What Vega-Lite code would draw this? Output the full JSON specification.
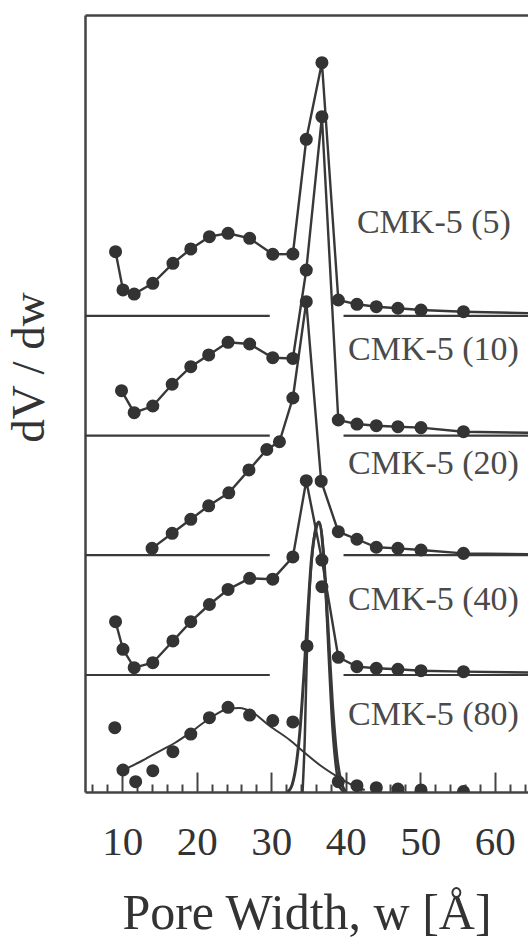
{
  "$schema": "https://vega.github.io/schema/vega-lite/v6.json",
  "width": 443,
  "height": 777,
  "autosize": {"type": "none"},
  "padding": {"left": 85, "top": 15, "right": 0, "bottom": 147},
  "background": "white",
  "config": {"view": {"stroke": null}, "font": "Liberation Serif"},
  "datasets": {
    "base": [
      {"x": 5, "x2": 29.8, "y": 3.985},
      {"x": 39.7, "x2": 70, "y": 3.985},
      {"x": 5, "x2": 29.8, "y": 2.982},
      {"x": 39.7, "x2": 70, "y": 2.982},
      {"x": 5, "x2": 29.8, "y": 1.983},
      {"x": 39.7, "x2": 70, "y": 1.983},
      {"x": 5, "x2": 29.8, "y": 0.979},
      {"x": 39.7, "x2": 70, "y": 0.979}
    ],
    "pts": [
      {"s": "5", "x": 9.1, "y": 4.521},
      {"s": "5", "x": 10.1, "y": 4.201},
      {"s": "5", "x": 11.6, "y": 4.167},
      {"s": "5", "x": 14.1, "y": 4.257},
      {"s": "5", "x": 16.8, "y": 4.424},
      {"s": "5", "x": 19.2, "y": 4.544},
      {"s": "5", "x": 21.7, "y": 4.647},
      {"s": "5", "x": 24.2, "y": 4.675},
      {"s": "5", "x": 27.1, "y": 4.633},
      {"s": "5", "x": 30.2, "y": 4.5},
      {"s": "5", "x": 32.9, "y": 4.502},
      {"s": "5", "x": 34.7, "y": 5.462},
      {"s": "5", "x": 36.8, "y": 6.103},
      {"s": "5", "x": 39.0, "y": 4.117},
      {"s": "5", "x": 41.5, "y": 4.081},
      {"s": "5", "x": 44.1, "y": 4.061},
      {"s": "5", "x": 47.0, "y": 4.048},
      {"s": "5", "x": 50.1, "y": 4.033},
      {"s": "5", "x": 55.8, "y": 4.019},
      {"s": "5", "x": 70, "y": 4.0},
      {"s": "10", "x": 9.9, "y": 3.358},
      {"s": "10", "x": 11.6, "y": 3.174},
      {"s": "10", "x": 14.1, "y": 3.23},
      {"s": "10", "x": 16.7, "y": 3.412},
      {"s": "10", "x": 19.2, "y": 3.559},
      {"s": "10", "x": 21.6, "y": 3.657},
      {"s": "10", "x": 24.2, "y": 3.763},
      {"s": "10", "x": 27.1, "y": 3.749},
      {"s": "10", "x": 30.2, "y": 3.634},
      {"s": "10", "x": 32.9, "y": 3.628},
      {"s": "10", "x": 34.7, "y": 4.368},
      {"s": "10", "x": 36.8, "y": 5.651},
      {"s": "10", "x": 39.0, "y": 3.113},
      {"s": "10", "x": 41.5, "y": 3.079},
      {"s": "10", "x": 44.1, "y": 3.065},
      {"s": "10", "x": 47.0, "y": 3.057},
      {"s": "10", "x": 50.1, "y": 3.049},
      {"s": "10", "x": 55.8, "y": 3.015},
      {"s": "10", "x": 70, "y": 3.0},
      {"s": "20", "x": 14.0, "y": 2.039},
      {"s": "20", "x": 16.7, "y": 2.165},
      {"s": "20", "x": 19.2, "y": 2.282},
      {"s": "20", "x": 21.6, "y": 2.395},
      {"s": "20", "x": 24.3, "y": 2.504},
      {"s": "20", "x": 27.0, "y": 2.695},
      {"s": "20", "x": 29.4, "y": 2.866},
      {"s": "20", "x": 31.1, "y": 2.931},
      {"s": "20", "x": 32.9, "y": 3.297},
      {"s": "20", "x": 34.7, "y": 4.103},
      {"s": "20", "x": 36.7, "y": 2.601},
      {"s": "20", "x": 39.0, "y": 2.178},
      {"s": "20", "x": 41.5, "y": 2.115},
      {"s": "20", "x": 44.1, "y": 2.048},
      {"s": "20", "x": 47.0, "y": 2.039},
      {"s": "20", "x": 50.1, "y": 2.025},
      {"s": "20", "x": 55.8, "y": 1.997},
      {"s": "20", "x": 70, "y": 1.987},
      {"s": "40", "x": 9.1, "y": 1.425},
      {"s": "40", "x": 10.1, "y": 1.194},
      {"s": "40", "x": 11.6, "y": 1.04},
      {"s": "40", "x": 14.1, "y": 1.082},
      {"s": "40", "x": 16.8, "y": 1.264},
      {"s": "40", "x": 19.2, "y": 1.425},
      {"s": "40", "x": 21.7, "y": 1.569},
      {"s": "40", "x": 24.2, "y": 1.695},
      {"s": "40", "x": 27.1, "y": 1.788},
      {"s": "40", "x": 30.2, "y": 1.781},
      {"s": "40", "x": 32.9, "y": 1.967},
      {"s": "40", "x": 34.7, "y": 2.605},
      {"s": "40", "x": 36.8, "y": 1.941},
      {"s": "40", "x": 39.0, "y": 1.127},
      {"s": "40", "x": 41.5, "y": 1.049},
      {"s": "40", "x": 44.1, "y": 1.035},
      {"s": "40", "x": 47.0, "y": 1.027},
      {"s": "40", "x": 50.1, "y": 1.015},
      {"s": "40", "x": 55.8, "y": 1.007},
      {"s": "40", "x": 70, "y": 0.996},
      {"s": "80", "x": 9.0, "y": 0.538},
      {"s": "80", "x": 10.1, "y": 0.184},
      {"s": "80", "x": 11.8, "y": 0.086},
      {"s": "80", "x": 14.1, "y": 0.178},
      {"s": "80", "x": 16.8, "y": 0.337},
      {"s": "80", "x": 19.2, "y": 0.485},
      {"s": "80", "x": 21.7, "y": 0.622},
      {"s": "80", "x": 24.2, "y": 0.709},
      {"s": "80", "x": 27.1, "y": 0.644},
      {"s": "80", "x": 30.2, "y": 0.598},
      {"s": "80", "x": 32.9, "y": 0.586},
      {"s": "80", "x": 34.8, "y": 1.222},
      {"s": "80", "x": 36.8, "y": 1.718},
      {"s": "80", "x": 39.0, "y": 0.086},
      {"s": "80", "x": 41.5, "y": 0.053},
      {"s": "80", "x": 44.1, "y": 0.036},
      {"s": "80", "x": 47.0, "y": 0.025},
      {"s": "80", "x": 50.1, "y": 0.017},
      {"s": "80", "x": 55.8, "y": 0.003}
    ],
    "fit": [
      {"f": "broad", "x": 10.07, "y": 0.184},
      {"f": "broad", "x": 12.35, "y": 0.251},
      {"f": "broad", "x": 15.03, "y": 0.343},
      {"f": "broad", "x": 17.05, "y": 0.41},
      {"f": "broad", "x": 19.06, "y": 0.494},
      {"f": "broad", "x": 21.61, "y": 0.611},
      {"f": "broad", "x": 24.16, "y": 0.695},
      {"f": "broad", "x": 25.77, "y": 0.703},
      {"f": "broad", "x": 27.38, "y": 0.669},
      {"f": "broad", "x": 29.8, "y": 0.552},
      {"f": "broad", "x": 32.48, "y": 0.435},
      {"f": "broad", "x": 34.36, "y": 0.335},
      {"f": "broad", "x": 36.51, "y": 0.226},
      {"f": "broad", "x": 38.93, "y": 0.126},
      {"f": "broad", "x": 40.8, "y": 0.059},
      {"f": "broad", "x": 42.55, "y": 0.017},
      {"f": "narrow", "x": 34.2, "y": 0.0},
      {"f": "narrow", "x": 34.5, "y": 0.45},
      {"f": "narrow", "x": 34.8, "y": 1.2},
      {"f": "narrow", "x": 35.2, "y": 1.75},
      {"f": "narrow", "x": 35.6, "y": 2.05},
      {"f": "narrow", "x": 36.0, "y": 2.22},
      {"f": "narrow", "x": 36.4, "y": 2.26},
      {"f": "narrow", "x": 36.8, "y": 2.15},
      {"f": "narrow", "x": 37.2, "y": 1.8},
      {"f": "narrow", "x": 37.7, "y": 1.15},
      {"f": "narrow", "x": 38.2, "y": 0.55},
      {"f": "narrow", "x": 38.7, "y": 0.2},
      {"f": "narrow", "x": 39.2, "y": 0.04},
      {"f": "narrow", "x": 39.8, "y": 0.0},
      {"f": "thin", "x": 32.2, "y": 0.0},
      {"f": "thin", "x": 32.8, "y": 0.06},
      {"f": "thin", "x": 33.4, "y": 0.25},
      {"f": "thin", "x": 33.9, "y": 0.55},
      {"f": "thin", "x": 34.4, "y": 1.0},
      {"f": "thin", "x": 34.9, "y": 1.5},
      {"f": "thin", "x": 35.4, "y": 1.95},
      {"f": "thin", "x": 36.0, "y": 2.2},
      {"f": "thin", "x": 36.4, "y": 2.26},
      {"f": "thin", "x": 37.0, "y": 2.0},
      {"f": "thin", "x": 37.6, "y": 1.4},
      {"f": "thin", "x": 38.2, "y": 0.75},
      {"f": "thin", "x": 38.8, "y": 0.3},
      {"f": "thin", "x": 39.4, "y": 0.08},
      {"f": "thin", "x": 40.0, "y": 0.0}
    ],
    "lab": [
      {"t": "CMK-5 (5)", "x": 41.5, "y": 4.678},
      {"t": "CMK-5 (10)", "x": 40.3, "y": 3.615},
      {"t": "CMK-5 (20)", "x": 40.3, "y": 2.661},
      {"t": "CMK-5 (40)", "x": 40.3, "y": 1.523},
      {"t": "CMK-5 (80)", "x": 40.3, "y": 0.561}
    ]
  },
  "layer": [
    {
      "data": {"name": "base"},
      "mark": {"type": "rule", "color": "#3a3a3a", "strokeWidth": 2.2, "clip": true},
      "encoding": {
        "x": {"field": "x", "type": "quantitative",
          "scale": {"domain": [5, 64.46], "nice": false, "zero": false},
          "axis": {"orient": "bottom", "values": [10, 20, 30, 40, 50, 60], "format": "d", "grid": false,
            "tickSize": -20, "tickWidth": 2, "tickColor": "#444", "domainColor": "#444", "domainWidth": 2.5,
            "labelFont": "Liberation Serif", "labelFontSize": 41, "labelColor": "#333", "labelPadding": 82,
            "labelBaseline": "alphabetic", "labelFlush": false, "labelOverlap": false,
            "title": "Pore Width, w [Å]", "titleFont": "Liberation Serif", "titleFontSize": 50, "titleFontWeight": "normal",
            "titleColor": "#333", "titleBaseline": "alphabetic", "titleY": 136, "titleX": 221.5, "titleAlign": "center"}},
        "x2": {"field": "x2"},
        "y": {"field": "y", "type": "quantitative",
          "scale": {"domain": [0, 6.502], "nice": false, "zero": false},
          "axis": {"orient": "left", "grid": false, "ticks": false, "labels": false, "domainColor": "#444", "domainWidth": 2.5,
            "title": "dV / dw", "titleFont": "Liberation Serif", "titleFontSize": 47, "titleFontWeight": "normal",
            "titleColor": "#333", "titleAngle": 270, "titleBaseline": "alphabetic", "titleAlign": "center",
            "titleX": -42, "titleY": 352}}
      }
    },
    {
      "data": {"name": "pts"},
      "transform": [{"filter": "datum.s != '80'"}],
      "mark": {"type": "line", "color": "#383838", "strokeWidth": 2.4, "clip": true},
      "encoding": {
        "x": {"field": "x", "type": "quantitative",
          "scale": {"domain": [5, 64.46], "nice": false, "zero": false},
          "axis": {"orient": "bottom", "values": [6, 8, 12, 14, 16, 18, 22, 24, 26, 28, 32, 34, 36, 38, 42, 44, 46, 48, 52, 54, 56, 58, 62, 64],
            "grid": false, "labels": false, "domain": false, "tickSize": -8, "tickWidth": 2, "tickColor": "#444", "title": null}},
        "y": {"field": "y", "type": "quantitative", "scale": {"domain": [0, 6.502], "nice": false, "zero": false}, "axis": null},
        "detail": {"field": "s"},
        "order": {"field": "x", "type": "quantitative"}
      }
    },
    {
      "data": {"name": "fit"},
      "mark": {"type": "line", "color": "#383838", "clip": true, "interpolate": "monotone"},
      "encoding": {
        "x": {"field": "x", "type": "quantitative",
          "scale": {"domain": [5, 64.46], "nice": false, "zero": false},
          "axis": {"orient": "top", "grid": false, "labels": false, "ticks": false, "domainColor": "#444", "domainWidth": 2.5, "title": null}},
        "y": {"field": "y", "type": "quantitative", "scale": {"domain": [0, 6.502], "nice": false, "zero": false}, "axis": null},
        "detail": {"field": "f"},
        "strokeWidth": {"field": "f", "type": "nominal", "scale": {"domain": ["broad", "narrow", "thin"], "range": [2, 3, 1.4]}, "legend": null},
        "order": {"field": "x", "type": "quantitative"}
      }
    },
    {
      "data": {"name": "pts"},
      "mark": {"type": "circle", "color": "#333", "opacity": 1, "size": 170, "clip": true},
      "encoding": {
        "x": {"field": "x", "type": "quantitative", "scale": {"domain": [5, 64.46], "nice": false, "zero": false}, "axis": null},
        "y": {"field": "y", "type": "quantitative", "scale": {"domain": [0, 6.502], "nice": false, "zero": false}, "axis": null}
      }
    },
    {
      "data": {"name": "lab"},
      "mark": {"type": "text", "align": "left", "baseline": "alphabetic", "font": "Liberation Serif", "fontSize": 34, "color": "#4a4a4a"},
      "encoding": {
        "x": {"field": "x", "type": "quantitative", "scale": {"domain": [5, 64.46], "nice": false, "zero": false}, "axis": null},
        "y": {"field": "y", "type": "quantitative", "scale": {"domain": [0, 6.502], "nice": false, "zero": false}, "axis": null},
        "text": {"field": "t"}
      }
    }
  ],
  "resolve": {"axis": {"x": "independent", "y": "independent"}}
}
